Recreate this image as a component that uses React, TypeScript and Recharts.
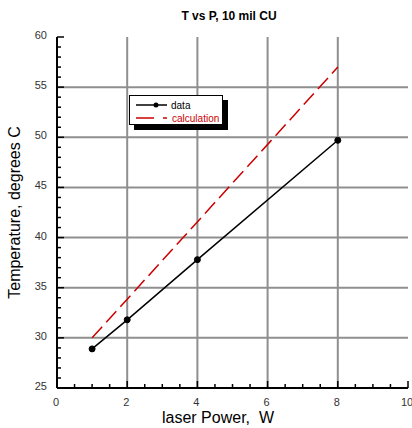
import React from "react";
import {
    LineChart,
    Line,
    XAxis,
    YAxis,
    ReferenceLine,
    Label
} from "recharts";

// measured points
const dataPower = [1, 2, 4, 8];
const dataTemp = [28.9, 31.8, 37.8, 49.7];

// calculated line
const calcPower = [1, 8];
const calcTemp = [30, 57];

const xMajor = [0, 2, 4, 6, 8, 10];
const xMinor = [0, 0.5, 1, 1.5, 2, 2.5, 3, 3.5, 4, 4.5, 5, 5.5, 6, 6.5, 7, 7.5, 8, 8.5, 9, 9.5, 10];
const yMajor = [25, 30, 35, 40, 45, 50, 55, 60];
const yMinor = [25, 26, 27, 28, 29, 30, 31, 32, 33, 34, 35, 36, 37, 38, 39, 40, 41, 42, 43, 44, 45,
    46, 47, 48, 49, 50, 51, 52, 53, 54, 55, 56, 57, 58, 59, 60];
const xGrid = [2, 4, 6, 8];
const yGrid = [30, 35, 40, 45, 50, 55];

const dataSeries = dataPower.map((p, i) => ({ power: p, temp: dataTemp[i] }));
const calcSeries = calcPower.map((p, i) => ({ power: p, temp: calcTemp[i] }));

const FONT = "'Liberation Sans', Arial, sans-serif";
const TICK_COLOR = "#333";
const GRID = "#8f8f8f";

const BottomTick = (props: any) => {
    const { x, y, payload } = props;
    const major = xMajor.includes(payload.value);
    return (
        <g>
            <line x1={x} x2={x} y1={y} y2={y - (major ? 7 : 4)} stroke="#000" strokeWidth={1.5} />
            {major && (
                <text x={x - 1} y={y + 18} textAnchor="middle" fontSize={11} fontFamily={FONT} fill={TICK_COLOR}>
                    {payload.value}
                </text>
            )}
        </g>
    );
};

const TopTick = (props: any) => {
    const { x, y, payload } = props;
    const major = xMajor.includes(payload.value);
    return <line x1={x} x2={x} y1={y} y2={y + (major ? 7 : 4)} stroke="#000" strokeWidth={1.5} />;
};

const LeftTick = (props: any) => {
    const { x, y, payload } = props;
    const major = yMajor.includes(payload.value);
    return (
        <g>
            <line x1={x} x2={x + (major ? 7 : 4)} y1={y} y2={y} stroke="#000" strokeWidth={1.5} />
            {major && (
                <text x={x - 10} y={y + 2} textAnchor="end" fontSize={11} fontFamily={FONT} fill={TICK_COLOR}>
                    {payload.value}
                </text>
            )}
        </g>
    );
};

const RightTick = (props: any) => {
    const { x, y, payload } = props;
    const major = yMajor.includes(payload.value);
    return <line x1={x} x2={x - (major ? 7 : 4)} y1={y} y2={y} stroke="#000" strokeWidth={1.5} />;
};

const YTitle = (props: any) => {
    const { x, y, height } = props.viewBox;
    const cx = x + 20;
    const cy = y + height / 2;
    return (
        <text
            x={cx}
            y={cy}
            transform={`rotate(-90, ${cx}, ${cy})`}
            textAnchor="middle"
            fontSize={16}
            fontFamily={FONT}
            fill="#000"
        >
            Temperature, degrees C
        </text>
    );
};

const LegendBox = () => (
    <div
        style={{
            position: "absolute",
            left: 129,
            top: 95,
            width: 92,
            height: 28,
            border: "1px solid #000",
            boxShadow: "5px 5px 0 #000",
            background: "#fff",
            fontFamily: FONT,
            fontSize: 10
        }}
    >
        <svg width={92} height={28} style={{ position: "absolute", left: 0, top: 0 }}>
            <line x1={6} x2={37} y1={9} y2={9} stroke="#000" strokeWidth={1.5} />
            <circle cx={26} cy={9} r={2.5} fill="#000" />
            <text x={41} y={12.5} fill="#000" fontSize={10} fontFamily={FONT}>data</text>
            <line x1={6} x2={37} y1={22} y2={22} stroke="#cc0000" strokeWidth={1.5} strokeDasharray="18 9" />
            <text x={42} y={25.5} fill="#cc0000" fontSize={10} fontFamily={FONT}>calculation</text>
        </svg>
    </div>
);

const App = () => {
    return (
        <div style={{ position: "fixed", left: 0, top: 0, width: 412, height: 428, background: "#fff", overflow: "hidden" }}>
            <div
                style={{
                    position: "absolute",
                    left: 229,
                    top: 9,
                    transform: "translateX(-50%)",
                    whiteSpace: "nowrap",
                    fontFamily: FONT,
                    fontWeight: "bold",
                    fontSize: 12
                }}
            >
                T vs P, 10 mil CU
            </div>
            <LineChart width={412} height={428} margin={{ top: 37, right: 4, bottom: 0, left: 0 }}>
                <XAxis
                    xAxisId="bottom"
                    type="number"
                    dataKey="power"
                    domain={[0, 10]}
                    ticks={xMinor}
                    interval={0}
                    height={40}
                    tickSize={0}
                    tickMargin={0}
                    tickLine={false}
                    tick={<BottomTick />}
                    axisLine={{ stroke: "#000", strokeWidth: 2 }}
                />
                <XAxis
                    xAxisId="top"
                    orientation="top"
                    type="number"
                    dataKey="power"
                    domain={[0, 10]}
                    ticks={xMinor}
                    interval={0}
                    height={0}
                    tickSize={0}
                    tickMargin={0}
                    tickLine={false}
                    tick={<TopTick />}
                    axisLine={{ stroke: "#000", strokeWidth: 2 }}
                />
                <YAxis
                    yAxisId="left"
                    type="number"
                    domain={[25, 60]}
                    ticks={yMinor}
                    interval={0}
                    width={57}
                    tickSize={0}
                    tickMargin={0}
                    tickLine={false}
                    tick={<LeftTick />}
                    axisLine={{ stroke: "#000", strokeWidth: 2 }}
                >
                    <Label content={<YTitle />} />
                </YAxis>
                <YAxis
                    yAxisId="right"
                    orientation="right"
                    type="number"
                    domain={[25, 60]}
                    ticks={yMinor}
                    interval={0}
                    width={0}
                    tickSize={0}
                    tickMargin={0}
                    tickLine={false}
                    tick={<RightTick />}
                    axisLine={{ stroke: "#000", strokeWidth: 2 }}
                />
                {xGrid.map((v) => (
                    <ReferenceLine key={"gx" + v} x={v} xAxisId="bottom" yAxisId="left" stroke={GRID} strokeWidth={2} />
                ))}
                {yGrid.map((v) => (
                    <ReferenceLine key={"gy" + v} y={v} xAxisId="bottom" yAxisId="left" stroke={GRID} strokeWidth={2} />
                ))}
                <Line
                    xAxisId="bottom"
                    yAxisId="left"
                    data={calcSeries}
                    dataKey="temp"
                    type="linear"
                    stroke="#cc0000"
                    strokeWidth={1.5}
                    strokeDasharray="15 6"
                    dot={false}
                    isAnimationActive={false}
                />
                <Line
                    xAxisId="bottom"
                    yAxisId="left"
                    data={dataSeries}
                    dataKey="temp"
                    type="linear"
                    stroke="#000"
                    strokeWidth={1.5}
                    dot={{ r: 3, fill: "#000", stroke: "#000", strokeWidth: 1 }}
                    isAnimationActive={false}
                />
            </LineChart>
            <div
                style={{
                    position: "absolute",
                    left: 218,
                    top: 409,
                    transform: "translateX(-50%)",
                    whiteSpace: "pre",
                    fontFamily: FONT,
                    fontSize: 16,
                    lineHeight: "18px"
                }}
            >
                {"laser Power,  W"}
            </div>
            <LegendBox />
        </div>
    );
};

export default App;
